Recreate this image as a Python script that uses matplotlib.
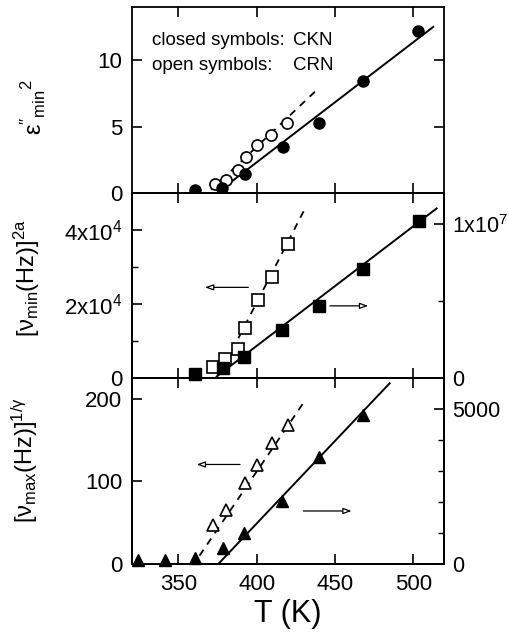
import matplotlib
matplotlib.use('Agg')
import matplotlib.pyplot as plt
from matplotlib.ticker import FixedLocator, FixedFormatter

plt.rcParams['font.family'] = ['Liberation Sans', 'DejaVu Sans']
plt.rcParams['mathtext.fontset'] = 'custom'
plt.rcParams['mathtext.rm'] = 'Liberation Sans'
plt.rcParams['mathtext.it'] = 'Liberation Sans:italic'
plt.rcParams['mathtext.bf'] = 'Liberation Sans:bold'

# ---------------- data ----------------
# top panel: eps''_min^2
T_eps_ckn = [360.6, 378.0, 392.6, 417.0, 439.8, 468.1, 503.2]
eps_ckn = [0.2, 0.4, 1.4, 3.5, 5.3, 8.4, 12.2]
T_eps_crn = [373.4, 380.4, 388.3, 393.2, 400.0, 409.2, 419.2]
eps_crn = [0.65, 1.0, 1.7, 2.7, 3.65, 4.35, 5.25]
T_fit_eps_ckn = [374.5, 512.8]
fit_eps_ckn = [0.0, 12.5]
T_fit_eps_crn = [371.0, 438.3]
fit_eps_crn = [0.25, 7.74]

# middle panel: [nu_min]^(2a)
T_num_crn = [371.9, 379.8, 388.3, 392.6, 400.7, 409.6, 419.8]
num_crn = [0.30e4, 0.51e4, 0.79e4, 1.34e4, 2.12e4, 2.72e4, 3.62e4]
T_num_ckn = [360.6, 378.7, 392.1, 416.4, 439.8, 467.7, 503.7]
num_ckn = [0.025e7, 0.066e7, 0.133e7, 0.31e7, 0.47e7, 0.71e7, 1.02e7]
T_fit_num_crn = [376.5, 430.8]
fit_num_crn = [0.1e4, 4.57e4]
T_fit_num_ckn = [374.5, 515.0]
fit_num_ckn = [0.01e7, 1.10e7]

# bottom panel: [nu_max]^(1/gamma)
T_nux_crn = [372.3, 380.4, 392.6, 400.0, 409.6, 419.8]
nux_crn = [47, 65, 97.5, 119.6, 145.8, 168]
T_nux_ckn = [324.4, 341.5, 360.6, 378.3, 392.0, 416.0, 439.8, 467.7]
nux_ckn = [130, 130, 180, 506, 990, 2032, 3461, 4806]
T_fit_nux_crn = [363.5, 431.0]
fit_nux_crn = [10, 198]
T_fit_nux_ckn = [375.5, 485.0]
fit_nux_ckn = [0, 5830]

xlim = (320.4, 519.7)
xticks = [350, 400, 450, 500]

# ---------------- figure ----------------
W, H = 510, 633
fig = plt.figure(figsize=(W / 100, H / 100), dpi=100)

def frac_axes(top_px, bot_px, left_px=132, right_px=444):
    return [left_px / W, 1 - bot_px / H, (right_px - left_px) / W, (bot_px - top_px) / H]

ax1 = fig.add_axes(frac_axes(7, 193))
ax2 = fig.add_axes(frac_axes(193, 378))
ax3 = fig.add_axes(frac_axes(378, 564))
ax2r = ax2.twinx()
ax3r = ax3.twinx()

FS = 16
lw_sp = 1.3
tick_kw = dict(direction='in', length=7, width=1.2, labelsize=FS, pad=7)
rtick_kw = dict(direction='in', length=7, width=1.2, labelsize=15.5, pad=6)
minor_kw = dict(direction='in', length=4, width=1.0)

for ax in (ax1, ax2, ax3, ax2r, ax3r):
    for s in ax.spines.values():
        s.set_linewidth(lw_sp)
    ax.set_xlim(*xlim)
    ax.xaxis.set_major_locator(FixedLocator(xticks))

# top panel
ax1.set_ylim(0, 14)
ax1.yaxis.set_major_locator(FixedLocator([0, 5, 10]))
ax1.tick_params(axis='both', which='major', top=True, right=True, **tick_kw)
ax1.tick_params(axis='x', labelbottom=False)
ax1.plot(T_fit_eps_ckn, fit_eps_ckn, color='black', lw=1.4)
ax1.plot(T_fit_eps_crn, fit_eps_crn, color='black', lw=1.3, ls=(0, (4, 3.5)))
ax1.plot(T_eps_crn, eps_crn, 'o', ms=8, mfc='white', mec='black', mew=1.2, clip_on=False)
ax1.plot(T_eps_ckn, eps_ckn, 'o', ms=8, mfc='black', mec='black', mew=1.0, clip_on=False)
ax1.text(333, 11.5, 'closed symbols:', fontsize=13.5, va='center', ha='left')
ax1.text(423, 11.5, 'CKN', fontsize=13.5, va='center', ha='left')
ax1.text(333, 9.6, 'open symbols:', fontsize=13.5, va='center', ha='left')
ax1.text(423, 9.6, 'CRN', fontsize=13.5, va='center', ha='left')

# middle panel
ax2.set_ylim(0, 5e4)
ax2.yaxis.set_major_locator(FixedLocator([0, 2e4, 4e4]))
ax2.yaxis.set_major_formatter(FixedFormatter(['0', r'2x10$^4$', r'4x10$^4$']))
ax2.yaxis.set_minor_locator(FixedLocator([1e4, 3e4]))
ax2.tick_params(axis='both', which='major', top=True, right=False, **tick_kw)
ax2.tick_params(axis='y', which='minor', left=True, right=False, **minor_kw)
ax2.tick_params(axis='x', labelbottom=False)
ax2r.set_ylim(0, 1.2e7)
ax2r.yaxis.set_major_locator(FixedLocator([0, 1e7]))
ax2r.yaxis.set_major_formatter(FixedFormatter(['0', r'1x10$^7$']))
ax2r.yaxis.set_minor_locator(FixedLocator([0.5e7]))
ax2r.tick_params(axis='y', which='major', **rtick_kw)
ax2r.tick_params(axis='y', which='minor', **minor_kw)
ax2r.tick_params(axis='x', which='both', bottom=False, top=False, labelbottom=False)

ax2.plot(T_fit_num_crn, fit_num_crn, color='black', lw=1.3, ls=(0, (4, 3.5)))
ax2.plot(T_num_crn, num_crn, 's', ms=8, mfc='white', mec='black', mew=1.2, clip_on=False)
ax2r.plot(T_fit_num_ckn, fit_num_ckn, color='black', lw=1.4)
ax2r.plot(T_num_ckn, num_ckn, 's', ms=8, mfc='black', mec='black', mew=1.0, clip_on=False)
arrow_kw = dict(arrowstyle='-|>,head_length=0.5,head_width=0.18', color='black', lw=0.9,
                shrinkA=0, shrinkB=0)
ax2.annotate('', xy=(367.0, 2.45e4), xytext=(394.7, 2.45e4),
             arrowprops=dict(fc='white', **arrow_kw))
ax2r.annotate('', xy=(471.3, 0.468e7), xytext=(446.8, 0.468e7),
              arrowprops=dict(fc='white', **arrow_kw))

# bottom panel
ax3.set_ylim(0, 225)
ax3.yaxis.set_major_locator(FixedLocator([0, 100, 200]))
ax3.tick_params(axis='both', which='major', top=True, right=False, **tick_kw)
ax3.set_xticklabels([str(t) for t in xticks])
ax3r.set_ylim(0, 6000)
ax3r.yaxis.set_major_locator(FixedLocator([0, 5000]))
ax3r.yaxis.set_minor_locator(FixedLocator([1000, 2000, 3000, 4000]))
ax3r.tick_params(axis='y', which='major', **rtick_kw)
ax3r.tick_params(axis='y', which='minor', **minor_kw)
ax3r.tick_params(axis='x', which='both', bottom=False, top=False, labelbottom=False)

ax3.plot(T_fit_nux_crn, fit_nux_crn, color='black', lw=1.3, ls=(0, (4, 3.5)))
ax3.plot(T_nux_crn, nux_crn, '^', ms=9, mfc='white', mec='black', mew=1.2, clip_on=False)
ax3r.plot(T_fit_nux_ckn, fit_nux_ckn, color='black', lw=1.4)
ax3r.plot(T_nux_ckn, nux_ckn, '^', ms=9, mfc='black', mec='black', mew=1.0, clip_on=False)
ax3.annotate('', xy=(361.7, 120.4), xytext=(389.4, 120.4),
             arrowprops=dict(fc='white', **arrow_kw))
ax3r.annotate('', xy=(460.7, 1710), xytext=(429.8, 1710),
              arrowprops=dict(fc='white', **arrow_kw))

ax3.set_xlabel('T (K)', fontsize=22, labelpad=3)

# y labels
fig.text(33 / W, 1 - 107 / H, r"$\mathrm{ε''}_{\rm min}{}^{2}$", rotation=90, fontsize=17,
         ha='center', va='center')
fig.text(27 / W, 1 - 278 / H, r"$[\mathrm{ν}_{\rm min}(\rm Hz)]^{\rm 2a}$", rotation=90, fontsize=17,
         ha='center', va='center')
fig.text(25 / W, 1 - 460 / H, r"$[\mathrm{ν}_{\rm max}(\rm Hz)]^{\rm 1/γ}$", rotation=90, fontsize=17,
         ha='center', va='center')

fig.savefig('out.png', dpi=100)
